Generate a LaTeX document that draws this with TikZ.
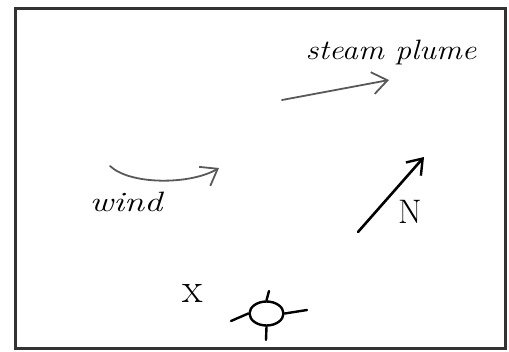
\documentclass[tikz,border=0pt]{standalone}
\usetikzlibrary{arrows.meta,shapes.geometric}
\begin{document}
\begin{tikzpicture}[x=1pt,y=-1pt,
  frame/.style={draw=black!80,line width=3pt},
  sketch/.style={draw=black!65,line width=1.8pt,line cap=round,-{Straight Barb[length=15pt,width=22pt,line width=1.8pt]}},
  northarrow/.style={draw=black,line width=2.6pt,line cap=round,-{Straight Barb[length=14pt,width=20pt,line width=2.4pt]}},
  handtext/.style={font=\fontsize{28}{28}\selectfont\itshape,inner sep=0pt},
  sitestroke/.style={draw=black,line width=2.4pt,line cap=round}]
\useasboundingbox (0,0) rectangle (509,351);
\draw[frame] (15,8) rectangle (505,348);
% steam plume
\node[handtext,xscale=1.15] (plumetxt) at (391,52) {steam plume};
\coordinate (p1) at (282,100);
\coordinate (p2) at (389,80);
\draw[sketch] (p1) -- (p2);
% wind
\coordinate (w1) at (110,166);
\coordinate (w2) at (219,168);
\draw[sketch] (w1) .. controls (130,185) and (190,185) .. (w2);
\node[handtext,xscale=1.3] (windtxt) at (126,202) {wind};
% north
\coordinate (n1) at (358,232);
\coordinate (n2) at (424,157);
\draw[northarrow] (n1) -- (n2);
\node[handtext,font=\fontsize{34}{34}\selectfont] (ntxt) at (410,212) {N};
% X
\node[handtext,font=\fontsize{42}{42}\selectfont] (xtxt) at (193,293) {x};
% site symbol
\node[sitestroke,ellipse,minimum width=34pt,minimum height=24pt,inner sep=0pt] (site) at (266.5,313.5) {};
\coordinate (t1) at (269,291);
\coordinate (b1) at (266,340);
\coordinate (l1) at (231,321);
\coordinate (r1) at (307,310);
\draw[sitestroke] (t1) -- (site.north);
\draw[sitestroke] (b1) -- (site.south);
\draw[sitestroke] (l1) -- (site.west);
\draw[sitestroke] (r1) -- (site.east);
\end{tikzpicture}
\end{document}
